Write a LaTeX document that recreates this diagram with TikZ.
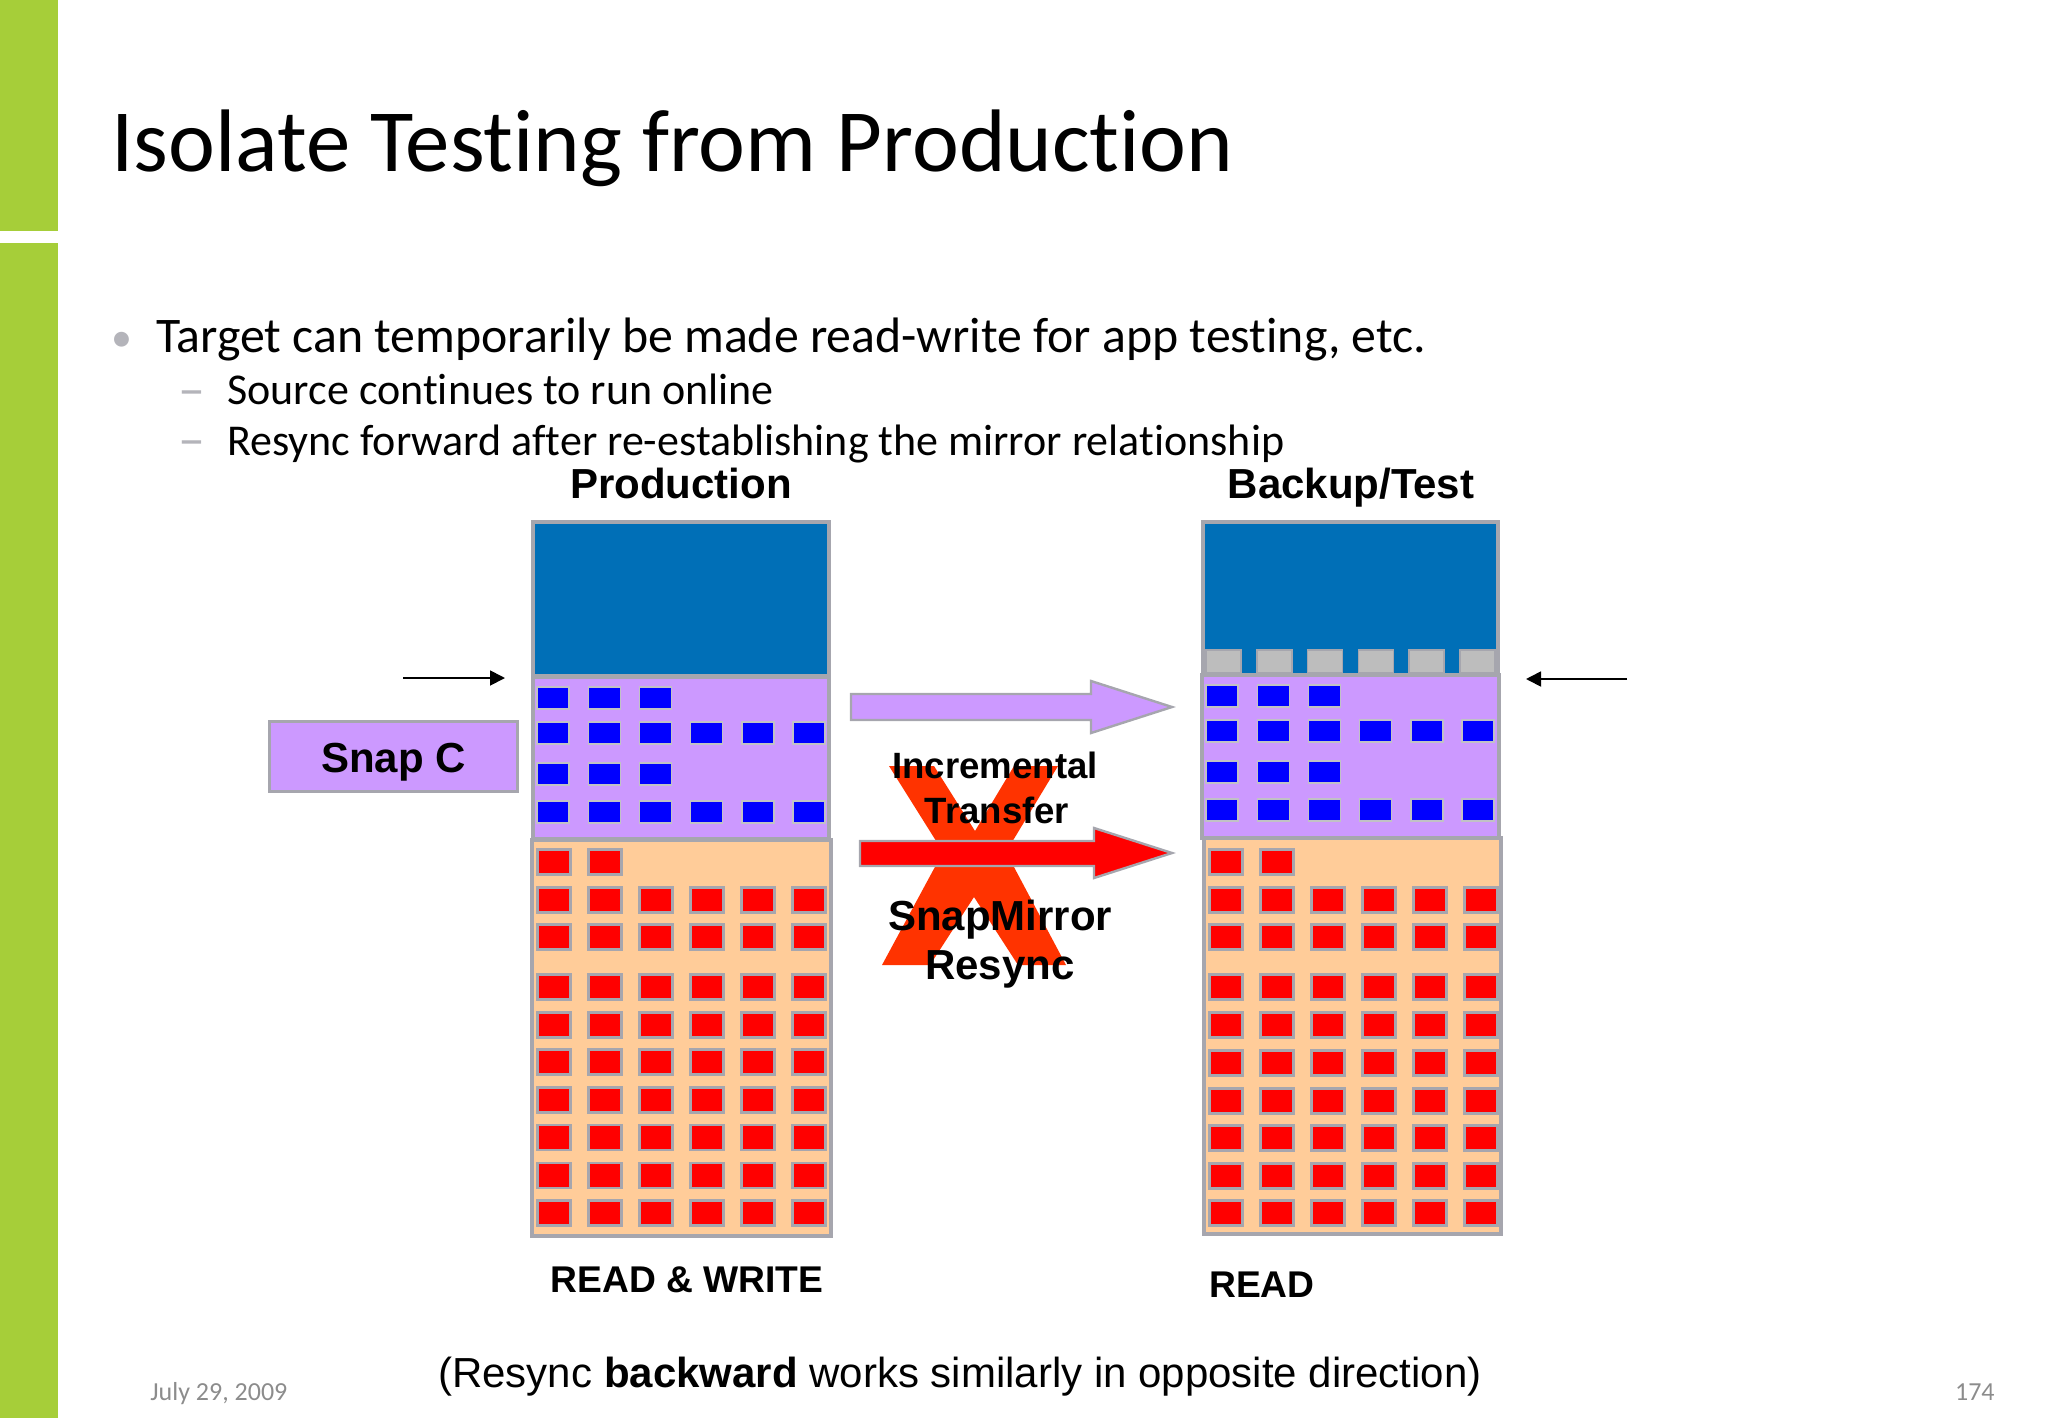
\documentclass[tikz,border=0pt]{standalone}
\usepackage{fontspec}
\usetikzlibrary{arrows.meta}
\setmainfont{Liberation Sans}
\newfontfamily\slidefont[Ligatures=NoCommon]{Carlito}
\definecolor{barc}{HTML}{A6CE39}
\definecolor{volc}{HTML}{006FB7}
\definecolor{edgec}{HTML}{A6A6AE}
\definecolor{snapc}{HTML}{CC99FF}
\definecolor{basec}{HTML}{FFCC99}
\definecolor{blockb}{HTML}{0000FF}
\definecolor{blockr}{HTML}{FF0000}
\definecolor{freec}{HTML}{BDBDBD}
\definecolor{crossc}{HTML}{FF3300}
\definecolor{footc}{HTML}{8C8C8C}
\definecolor{dotc}{HTML}{B4B4BA}
\begin{document}
\begin{tikzpicture}[x=0.5pt,y=-0.5pt]
\tikzstyle{bar}=[fill=barc,draw=none];
\tikzstyle{vol}=[fill=volc,draw=edgec,line width=1.6pt];
\tikzstyle{snap}=[fill=snapc,draw=edgec,line width=1.6pt];
\tikzstyle{base}=[fill=basec,draw=edgec,line width=1.6pt];
\tikzstyle{blockB}=[fill=blockb,draw=edgec!70,line width=0.7pt];
\tikzstyle{blockR}=[fill=blockr,draw=edgec,line width=1.1pt];
\tikzstyle{free}=[fill=freec,draw=edgec,line width=0.8pt];
\tikzstyle{lbl}=[font=\bfseries\fontsize{21}{25}\selectfont,align=center,inner sep=0pt,anchor=base];
\tikzstyle{lblsmall}=[lbl,font=\bfseries\fontsize{18.3}{22}\selectfont];
\tikzstyle{lblcap}=[lbl,font=\bfseries\fontsize{18.6}{22}\selectfont];
\tikzstyle{pointer}=[-{Triangle[length=7.5pt,width=7.5pt]},line width=0.9pt];
\tikzstyle{txt}=[anchor=base west,inner sep=0pt];
\useasboundingbox (0,0) rectangle (2048,1418);
% side bar
\fill [bar] (0,0) rectangle (57.5,231);
\fill [bar] (0,243) rectangle (57.5,1418);
% slide text
\node [txt] (title) at (111,171) {\slidefont\fontsize{44.4}{50}\selectfont Isolate Testing from Production};
\node [txt,text=dotc] (b0) at (111,351) {\slidefont\fontsize{21}{28}\selectfont •};
\node [txt] (b1) at (156,352) {\slidefont\fontsize{24.9}{28}\selectfont Target can temporarily be made read-write for app testing, etc.};
\node [txt,text=dotc] (d1) at (178,407) {\slidefont\fontsize{27}{25}\selectfont –};
\node [txt] (b2) at (227,404) {\slidefont\fontsize{22}{25}\selectfont Source continues to run online};
\node [txt,text=dotc] (d2) at (178,457) {\slidefont\fontsize{27}{25}\selectfont –};
\node [txt] (b3) at (227,455) {\slidefont\fontsize{22}{25}\selectfont Resync forward after re-establishing the mirror relationship};
\node [txt,text=footc] (date) at (150,1400) {\slidefont\fontsize{13}{14}\selectfont July 29, 2009};
\node [anchor=base east,inner sep=0pt,text=footc] (page) at (1995,1400) {\slidefont\fontsize{13}{14}\selectfont 174};
% production
\node [lbl] (prodl) at (681,498.5) {Production};
\draw [vol] (533,522) rectangle (829,676);
\draw [snap] (533,677) rectangle (829,839);
\draw [base] (532,840) rectangle (831,1236);
\foreach \y/\n in {698/3,733/6,774/3,812/6}
  \foreach \i in {1,...,\n}
    \draw [blockB] ({553+51.2*(\i-1)-16},\y-11) rectangle ++(32,22);
\foreach \y/\n in {862/2,900/6,937/6,987/6,1025/6,1062/6,1100/6,1137.5/6,1175.5/6,1213/6}
  \foreach \i in {1,...,\n}
    \draw [blockR] ({554+51*(\i-1)-16.5},\y-12.5) rectangle ++(33,25);
% backup
\node [lbl] (backl) at (1351,498.5) {Backup/Test};
\draw [vol] (1203,522) rectangle (1498,675);
\foreach \i in {0,...,5}
  \draw [free] ({1206+50.8*\i},650) rectangle ++(35,23);
\draw [snap] (1202,675) rectangle (1499,838);
\draw [base] (1204,838) rectangle (1501,1234);
\foreach \y/\n in {696/3,731/6,772/3,810/6}
  \foreach \i in {1,...,\n}
    \draw [blockB] ({1222+51.2*(\i-1)-16},\y-11) rectangle ++(32,22);
\foreach \y/\n in {862/2,900/6,937/6,987/6,1025/6,1063/6,1101/6,1138/6,1176/6,1213/6}
  \foreach \i in {1,...,\n}
    \draw [blockR] ({1226+51*(\i-1)-16.5},\y-12.5) rectangle ++(33,25);
% transfer arrows
\draw [snap,line width=1.2pt] (851,694) -- (1091,694) -- (1091,681) -- (1172,707) -- (1091,733) -- (1091,720) -- (851,720) -- cycle;
\fill [crossc] (889,766) -- (934,766) -- (975,831) -- (1014,766) -- (1058,766) -- (1006,852) -- (1066,965) -- (1018,965) -- (974,897) -- (930,965) -- (882,965) -- (943,852) -- cycle;
\draw [fill=blockr,draw=edgec,line width=1.2pt] (860,841) -- (1094,841) -- (1094,828) -- (1172,853) -- (1094,878) -- (1094,866) -- (860,866) -- cycle;
\node [lblsmall] (incl) at (995,778) {Incremental};
\node [lblsmall] (tranl) at (997,823) {Transfer};
\node [lbl] (snapl) at (1000,930.5) {SnapMirror};
\node [lbl] (resl) at (1000,979.5) {Resync};
% snap box
\node [fill=snapc,draw=edgec,line width=1.2pt,minimum width=124pt,minimum height=35pt,inner sep=0pt] (snapC) at (393.5,756.5) {};
\node [lbl] (snapl2) at (393.5,772) {Snap C};
% pointers
\coordinate (ml1) at (403,678);
\coordinate (ml2) at (505,678);
\coordinate (mr1) at (1627,679);
\coordinate (mr2) at (1526,679);
\draw [pointer] (ml1) -- (ml2);
\draw [pointer] (mr1) -- (mr2);
% captions
\node [lblcap] (rwl) at (687,1292.5) {READ \& WRITE};
\node [lblcap] (rl) at (1262,1297.5) {READ};
\node [lbl,font=\fontsize{21}{25}\selectfont] (notel) at (960,1387) {(Resync \textbf{backward} works similarly in opposite direction)};
\end{tikzpicture}
\end{document}
